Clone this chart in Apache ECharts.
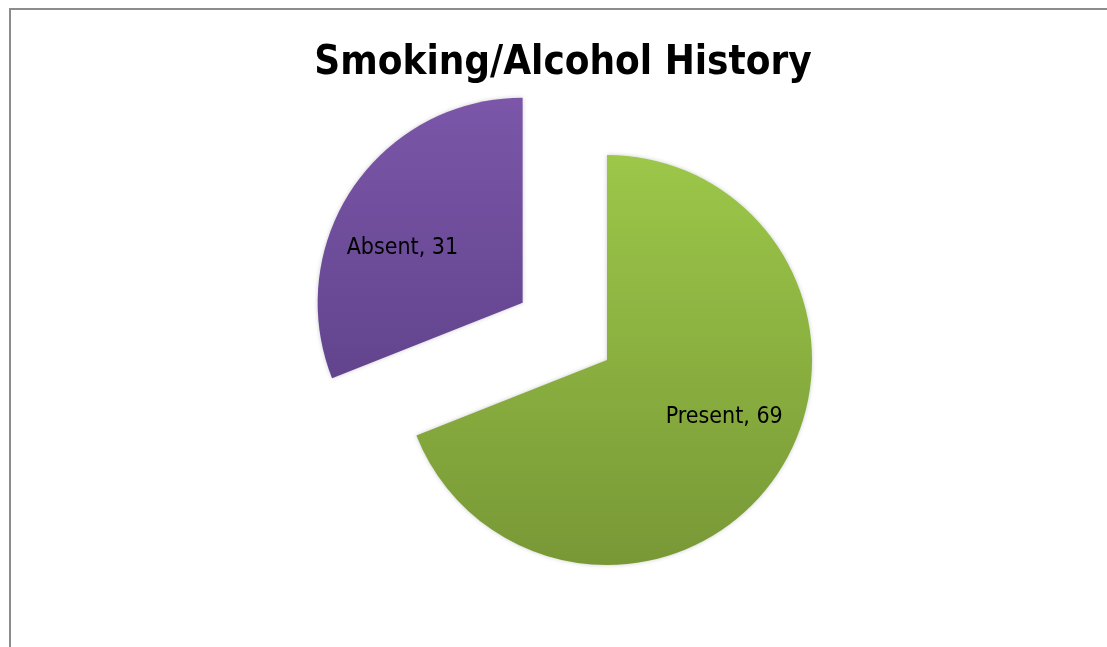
<!DOCTYPE html>
<html>
<head>
<meta charset="utf-8">
<title>Smoking/Alcohol History</title>
<script src="https://cdn.jsdelivr.net/npm/echarts@6/dist/echarts.min.js"></script>
<style>
  html, body { margin: 0; padding: 0; background: #ffffff; }
  #chart { width: 1107px; height: 647px; }
</style>
</head>
<body>
<div id="chart"></div>
<script>
// Smoking / alcohol history counts
const categories = ['Present', 'Absent'];
const counts = [69, 31];
const chartTitle = 'Smoking/Alcohol History';

// Slice fills: light at the top, deeper at the bottom
const sliceColors = [
  ['#9cc749', '#789836'],
  ['#7b56a9', '#62448d']
];
// Absent slice is pulled out of the pie
const pulledOut = [false, true];
// Nudges that place each label where it reads best inside its slice
const labelNudge = [[30, -2], [-33, 5]];

const chart = echarts.init(document.getElementById('chart'), null, { renderer: 'canvas' });

const fontStack = '"Liberation Sans Narrow", "DejaVu Sans Condensed", "Liberation Sans", sans-serif';

chart.setOption({
  animation: false,
  backgroundColor: '#ffffff',
  title: {
    text: chartTitle,
    left: 563,
    textAlign: 'center',
    top: 44,
    padding: 0,
    textStyle: {
      fontFamily: fontStack,
      fontWeight: 'bold',
      fontSize: 40,
      color: '#000000'
    }
  },
  graphic: [{
    type: 'polyline',
    silent: true,
    shape: { points: [[10, 647], [10, 9], [1107, 9]] },
    style: { stroke: '#8c8c8c', lineWidth: 2, fill: null }
  }],
  series: [{
    type: 'pie',
    center: [607, 360],
    radius: [0, 205],
    startAngle: 90,
    clockwise: true,
    selectedMode: 'multiple',
    selectedOffset: 102,
    avoidLabelOverlap: false,
    emphasis: { disabled: true },
    label: {
      show: true,
      position: 'inside',
      formatter: '{b}, {c}',
      color: '#000000',
      fontFamily: fontStack,
      fontSize: 23
    },
    labelLine: { show: false },
    labelLayout: function (params) {
      const n = labelNudge[params.dataIndex];
      return { dx: n[0], dy: n[1] };
    },
    data: categories.map(function (name, i) {
      return {
        name: name,
        value: counts[i],
        selected: pulledOut[i],
        itemStyle: {
          borderWidth: 0,
          color: new echarts.graphic.LinearGradient(0, 0, 0, 1, [
            { offset: 0, color: sliceColors[i][0] },
            { offset: 1, color: sliceColors[i][1] }
          ]),
          shadowBlur: 4,
          shadowColor: 'rgba(0,0,0,0.2)'
        }
      };
    })
  }]
});
</script>
</body>
</html>
